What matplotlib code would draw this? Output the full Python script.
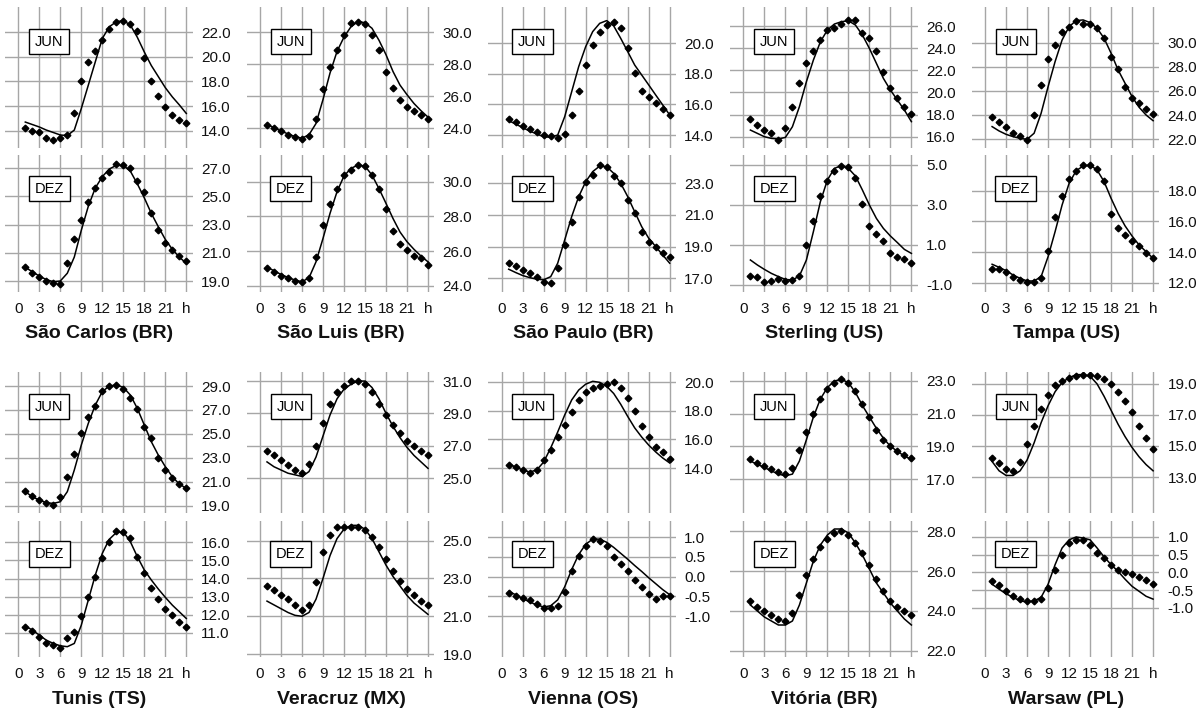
import matplotlib
matplotlib.use("Agg")
import matplotlib.pyplot as plt
import matplotlib.transforms as mtransforms

plt.rcParams['font.family'] = ['Liberation Sans', 'DejaVu Sans']

# ---------------- data ----------------
hours = list(range(1, 25))
xtick_values = [0, 3, 6, 9, 12, 15, 18, 21, 24]
xtick_labels = ['0', '3', '6', '9', '12', '15', '18', '21', 'h']
months = ['JUN', 'DEZ']
stations = ['São Carlos (BR)', 'São Luis (BR)', 'São Paulo (BR)', 'Sterling (US)', 'Tampa (US)',
            'Tunis (TS)', 'Veracruz (MX)', 'Vienna (OS)', 'Vitória (BR)', 'Warsaw (PL)']

sao_carlos_jun_obs = [14.24, 14.0, 13.86, 13.4, 13.24, 13.4, 13.65, 15.4, 18.0, 19.6, 20.5, 21.4,
                      22.3, 22.8, 22.9, 22.7, 22.1, 19.9, 18.0, 16.8, 15.9, 15.3, 14.9, 14.6]
sao_carlos_jun_model = [14.7, 14.5, 14.3, 14.05, 13.85, 13.65, 13.6, 14.05, 15.8, 17.7, 19.6, 21.5,
                        22.45, 22.86, 22.95, 22.6, 21.6, 20.4, 19.3, 18.4, 17.5, 16.75, 16.1, 15.4]
sao_carlos_jun_ticks = [14, 16, 18, 20, 22]
sao_carlos_jun_ylim = [12.59, 24.06]
sao_carlos_dez_obs = [19.97, 19.6, 19.3, 19.0, 18.83, 18.8, 20.25, 21.96, 23.3, 24.6, 25.6, 26.3,
                      26.7, 27.3, 27.2, 27.0, 26.1, 25.3, 23.8, 22.6, 21.7, 21.2, 20.8, 20.4]
sao_carlos_dez_model = [19.97, 19.66, 19.35, 19.1, 18.95, 19.0, 19.55, 20.7, 22.6, 24.3, 25.6, 26.4,
                        26.95, 27.2, 27.2, 26.8, 25.9, 24.9, 23.8, 22.85, 21.95, 21.25, 20.7, 20.25]
sao_carlos_dez_ticks = [19, 21, 23, 25, 27]
sao_carlos_dez_ylim = [18.22, 27.94]

sao_luis_jun_obs = [24.2, 24.04, 23.85, 23.6, 23.45, 23.33, 23.5, 24.6, 26.45, 27.85, 28.9, 29.8,
                    30.55, 30.67, 30.5, 29.8, 28.9, 27.5, 26.5, 25.8, 25.35, 25.1, 24.83, 24.6]
sao_luis_jun_model = [24.25, 24.04, 23.83, 23.65, 23.48, 23.38, 23.6, 24.3, 25.8, 27.45, 28.8, 29.7,
                      30.35, 30.67, 30.6, 30.25, 29.5, 28.6, 27.55, 26.7, 26.1, 25.55, 25.1, 24.7]
sao_luis_jun_ticks = [24, 26, 28, 30]
sao_luis_jun_ylim = [22.77, 31.58]
sao_luis_dez_obs = [25.0, 24.8, 24.58, 24.42, 24.27, 24.19, 24.46, 25.63, 27.5, 28.7, 29.58, 30.38,
                    30.7, 30.96, 30.9, 30.38, 29.56, 28.42, 27.17, 26.4, 26.06, 25.71, 25.58, 25.19]
sao_luis_dez_model = [25.06, 24.87, 24.65, 24.48, 24.33, 24.23, 24.46, 25.38, 26.73, 28.17, 29.42, 30.33,
                      30.77, 30.96, 30.9, 30.38, 29.6, 28.75, 27.88, 27.1, 26.54, 26.1, 25.71, 25.38]
sao_luis_dez_ticks = [24, 26, 28, 30]
sao_luis_dez_ylim = [23.64, 31.54]

sao_paulo_jun_obs = [15.05, 14.83, 14.59, 14.39, 14.22, 14.0, 13.93, 13.78, 14.04, 15.31, 16.9, 18.59,
                     19.9, 20.77, 21.2, 21.42, 20.99, 19.68, 18.04, 16.9, 16.47, 16.12, 15.68, 15.31]
sao_paulo_jun_model = [14.94, 14.72, 14.48, 14.26, 14.07, 13.89, 13.85, 14.0, 15.2, 16.84, 18.48, 19.79,
                       20.77, 21.31, 21.49, 21.14, 20.33, 19.46, 18.58, 17.93, 17.28, 16.62, 15.97, 15.31]
sao_paulo_jun_ticks = [14, 16, 18, 20]
sao_paulo_jun_ylim = [13.15, 22.38]
sao_paulo_dez_obs = [17.99, 17.78, 17.53, 17.36, 17.1, 16.79, 16.73, 17.63, 19.1, 20.58, 22.12, 23.1,
                     23.53, 24.16, 24.05, 23.46, 23.0, 21.95, 21.1, 19.95, 19.32, 18.96, 18.58, 18.33]
sao_paulo_dez_model = [17.57, 17.36, 17.17, 17.04, 16.94, 16.9, 17.1, 17.95, 19.42, 20.9, 22.16, 23.1,
                       23.74, 24.09, 24.05, 23.63, 23.0, 22.16, 21.2, 20.26, 19.53, 19.0, 18.47, 17.95]
sao_paulo_dez_ticks = [17, 19, 21, 23]
sao_paulo_dez_ylim = [16.13, 24.79]

sterling_jun_obs = [17.6, 17.05, 16.6, 16.3, 15.7, 16.81, 18.71, 20.88, 22.63, 23.74, 24.73, 25.64,
                    25.79, 26.18, 26.54, 26.54, 25.4, 24.89, 23.77, 21.87, 20.37, 19.46, 18.71, 18.05]
sterling_jun_model = [16.6, 16.3, 16.0, 15.85, 15.79, 15.94, 16.9, 18.71, 20.97, 22.93, 24.58, 25.64,
                      26.18, 26.39, 26.48, 26.09, 25.19, 23.98, 22.63, 21.27, 20.22, 19.31, 18.41, 17.36]
sterling_jun_ticks = [16, 18, 20, 22, 24, 26]
sterling_jun_ylim = [14.98, 27.72]
sterling_dez_obs = [-0.53, -0.62, -0.83, -0.8, -0.72, -0.8, -0.75, -0.53, 1.0, 2.2, 3.45, 4.2,
                    4.72, 4.95, 4.88, 4.37, 3.03, 1.97, 1.55, 1.22, 0.58, 0.38, 0.32, 0.08]
sterling_dez_model = [0.25, 0.0, -0.22, -0.42, -0.58, -0.72, -0.75, -0.55, 0.25, 1.67, 3.17, 4.25,
                      4.83, 4.97, 4.83, 4.45, 3.75, 3.0, 2.33, 1.83, 1.45, 1.12, 0.78, 0.58]
sterling_dez_ticks = [-1, 1, 3, 5]
sterling_dez_ylim = [-1.35, 5.5]

tampa_jun_obs = [23.82, 23.41, 22.99, 22.5, 22.3, 21.94, 24.01, 26.5, 28.62, 29.81, 30.91, 31.32,
                 31.82, 31.55, 31.55, 31.19, 30.36, 28.84, 27.82, 26.36, 25.39, 24.98, 24.48, 24.1]
tampa_jun_model = [23.05, 22.69, 22.41, 22.22, 22.08, 22.0, 22.5, 24.15, 26.36, 28.43, 30.22, 31.32,
                   31.82, 31.88, 31.66, 31.19, 30.36, 29.12, 27.74, 26.63, 25.53, 24.65, 24.01, 23.54]
tampa_jun_ticks = [22, 24, 26, 28, 30]
tampa_jun_ylim = [21.28, 32.95]
tampa_dez_obs = [12.89, 12.89, 12.72, 12.39, 12.17, 12.02, 12.02, 12.28, 14.09, 16.26, 17.65, 18.74,
                 19.28, 19.67, 19.67, 19.39, 18.63, 16.48, 15.54, 15.11, 14.74, 14.39, 13.91, 13.63]
tampa_dez_model = [13.2, 13.0, 12.78, 12.5, 12.28, 12.11, 12.11, 12.39, 13.7, 15.33, 17.07, 18.48,
                   19.3, 19.61, 19.67, 19.35, 18.59, 17.5, 16.52, 15.7, 15.04, 14.46, 14.02, 13.59]
tampa_dez_ticks = [12, 14, 16, 18]
tampa_dez_ylim = [11.39, 20.33]

tunis_jun_obs = [20.23, 19.84, 19.47, 19.25, 19.06, 19.75, 21.37, 23.32, 25.1, 26.38, 27.33, 28.58,
                 29.0, 29.08, 28.75, 28.03, 27.05, 25.6, 24.63, 23.01, 21.98, 21.28, 20.81, 20.45]
tunis_jun_model = [20.17, 19.75, 19.47, 19.25, 19.19, 19.33, 20.17, 21.98, 24.07, 25.88, 27.41, 28.53,
                   29.0, 29.08, 28.89, 28.25, 27.13, 25.74, 24.35, 23.23, 22.26, 21.42, 20.81, 20.45]
tunis_jun_ticks = [19, 21, 23, 25, 27, 29]
tunis_jun_ylim = [18.39, 30.17]
tunis_dez_obs = [11.33, 11.09, 10.78, 10.45, 10.32, 10.17, 10.72, 11.02, 11.92, 12.96, 14.1, 15.15,
                 16.04, 16.65, 16.55, 16.22, 15.17, 14.28, 13.49, 12.86, 12.31, 12.01, 11.57, 11.33]
tunis_dez_model = [11.37, 11.15, 10.87, 10.59, 10.41, 10.28, 10.23, 10.41, 11.42, 12.81, 14.19, 15.39,
                   16.17, 16.54, 16.59, 16.04, 15.21, 14.47, 13.92, 13.42, 12.96, 12.53, 12.16, 11.79]
tunis_dez_ticks = [11, 12, 13, 14, 15, 16]
tunis_dez_ylim = [9.66, 17.18]

veracruz_jun_obs = [26.7, 26.4, 26.1, 25.8, 25.5, 25.3, 25.9, 27.0, 28.4, 29.6, 30.3, 30.7,
                    31.0, 31.0, 30.8, 30.3, 29.6, 28.9, 28.3, 27.8, 27.3, 27.0, 26.7, 26.4]
veracruz_jun_model = [26.0, 25.7, 25.5, 25.3, 25.2, 25.1, 25.4, 26.3, 27.6, 28.9, 29.9, 30.5,
                      30.8, 31.0, 31.0, 30.6, 29.9, 29.0, 28.2, 27.5, 26.9, 26.4, 26.0, 25.6]
veracruz_jun_ticks = [25, 27, 29, 31]
veracruz_jun_ylim = [22.84, 31.56]
veracruz_dez_obs = [22.6, 22.4, 22.1, 21.9, 21.6, 21.35, 21.6, 22.8, 24.4, 25.3, 25.7, 25.7,
                    25.7, 25.7, 25.57, 25.2, 24.64, 24.02, 23.4, 22.88, 22.46, 22.1, 21.79, 21.58]
veracruz_dez_model = [21.8, 21.6, 21.4, 21.2, 21.05, 21.0, 21.2, 21.9, 23.0, 24.2, 25.1, 25.6,
                      25.8, 25.8, 25.6, 25.1, 24.4, 23.7, 23.1, 22.6, 22.1, 21.7, 21.4, 21.1]
veracruz_dez_ticks = [19, 21, 23, 25]
veracruz_dez_ylim = [18.85, 26.03]

vienna_jun_obs = [14.21, 14.07, 13.86, 13.65, 13.86, 14.56, 15.26, 16.16, 17.0, 17.91, 18.75, 19.3,
                  19.58, 19.72, 19.86, 20.0, 19.6, 18.9, 17.95, 16.9, 16.16, 15.5, 15.1, 14.6]
vienna_jun_model = [14.28, 14.07, 13.86, 13.72, 13.86, 14.42, 15.4, 16.51, 17.7, 18.75, 19.44, 19.85,
                    20.05, 19.98, 19.7, 19.2, 18.45, 17.6, 16.8, 16.16, 15.6, 15.12, 14.7, 14.35]
vienna_jun_ticks = [14, 16, 18, 20]
vienna_jun_ylim = [10.86, 20.70]
vienna_dez_obs = [-0.41, -0.49, -0.54, -0.59, -0.69, -0.79, -0.79, -0.74, -0.38, 0.13, 0.51, 0.77,
                  0.95, 0.9, 0.77, 0.5, 0.33, 0.13, -0.08, -0.26, -0.44, -0.56, -0.5, -0.5]
vienna_dez_model = [-0.38, -0.46, -0.56, -0.64, -0.72, -0.77, -0.74, -0.59, -0.26, 0.18, 0.56, 0.82,
                    0.95, 0.95, 0.87, 0.74, 0.59, 0.44, 0.28, 0.13, -0.03, -0.18, -0.33, -0.46]
vienna_dez_ticks = [-1.0, -0.5, 0.0, 0.5, 1.0]
vienna_dez_ylim = [-2.04, 1.41]

vitoria_jun_obs = [18.2, 18.0, 17.8, 17.6, 17.4, 17.3, 17.7, 18.8, 19.9, 21.0, 21.9, 22.5,
                   22.9, 23.1, 22.9, 22.4, 21.6, 20.8, 20.0, 19.4, 19.0, 18.7, 18.5, 18.3]
vitoria_jun_model = [18.1, 17.9, 17.7, 17.5, 17.3, 17.2, 17.3, 18.1, 19.4, 20.8, 21.9, 22.6,
                     23.0, 23.1, 22.9, 22.3, 21.5, 20.8, 20.1, 19.5, 19.0, 18.7, 18.4, 18.2]
vitoria_jun_ticks = [17, 19, 21, 23]
vitoria_jun_ylim = [14.92, 23.55]
vitoria_dez_obs = [24.5, 24.2, 24.0, 23.8, 23.6, 23.5, 23.9, 24.8, 25.8, 26.6, 27.2, 27.6,
                   27.9, 28.0, 27.8, 27.4, 26.9, 26.3, 25.6, 25.0, 24.5, 24.2, 24.0, 23.8]
vitoria_dez_model = [24.3, 24.0, 23.7, 23.5, 23.3, 23.3, 23.5, 24.3, 25.4, 26.5, 27.3, 27.8,
                     28.1, 28.1, 27.9, 27.4, 26.8, 26.1, 25.4, 24.9, 24.4, 24.0, 23.6, 23.3]
vitoria_dez_ticks = [22, 24, 26, 28]
vitoria_dez_ylim = [21.7, 28.5]

warsaw_jun_obs = [14.2, 13.9, 13.5, 13.4, 14.0, 15.1, 16.3, 17.4, 18.3, 18.9, 19.2, 19.4,
                  19.5, 19.6, 19.6, 19.5, 19.3, 19.0, 18.5, 17.9, 17.2, 16.3, 15.5, 14.8]
warsaw_jun_model = [14.0, 13.4, 13.1, 13.1, 13.4, 14.1, 15.2, 16.5, 17.6, 18.5, 19.1, 19.4,
                    19.6, 19.6, 19.5, 19.0, 18.2, 17.3, 16.4, 15.6, 14.9, 14.3, 13.8, 13.4]
warsaw_jun_ticks = [13, 15, 17, 19]
warsaw_jun_ylim = [10.68, 19.77]
warsaw_dez_obs = [-0.25, -0.36, -0.53, -0.67, -0.75, -0.8, -0.8, -0.75, -0.45, 0.08, 0.5, 0.83,
                  0.92, 0.92, 0.78, 0.56, 0.42, 0.22, 0.08, 0.0, -0.05, -0.14, -0.2, -0.33]
warsaw_dez_model = [-0.33, -0.47, -0.6, -0.7, -0.8, -0.83, -0.8, -0.7, -0.33, 0.22, 0.69, 0.92,
                    1.0, 0.97, 0.92, 0.69, 0.44, 0.22, 0.03, -0.19, -0.39, -0.53, -0.67, -0.75]
warsaw_dez_ticks = [-1.0, -0.5, 0.0, 0.5, 1.0]
warsaw_dez_ylim = [-2.38, 1.45]

panels = [
    ((sao_carlos_jun_obs, sao_carlos_jun_model, sao_carlos_jun_ticks, sao_carlos_jun_ylim),
     (sao_carlos_dez_obs, sao_carlos_dez_model, sao_carlos_dez_ticks, sao_carlos_dez_ylim)),
    ((sao_luis_jun_obs, sao_luis_jun_model, sao_luis_jun_ticks, sao_luis_jun_ylim),
     (sao_luis_dez_obs, sao_luis_dez_model, sao_luis_dez_ticks, sao_luis_dez_ylim)),
    ((sao_paulo_jun_obs, sao_paulo_jun_model, sao_paulo_jun_ticks, sao_paulo_jun_ylim),
     (sao_paulo_dez_obs, sao_paulo_dez_model, sao_paulo_dez_ticks, sao_paulo_dez_ylim)),
    ((sterling_jun_obs, sterling_jun_model, sterling_jun_ticks, sterling_jun_ylim),
     (sterling_dez_obs, sterling_dez_model, sterling_dez_ticks, sterling_dez_ylim)),
    ((tampa_jun_obs, tampa_jun_model, tampa_jun_ticks, tampa_jun_ylim),
     (tampa_dez_obs, tampa_dez_model, tampa_dez_ticks, tampa_dez_ylim)),
    ((tunis_jun_obs, tunis_jun_model, tunis_jun_ticks, tunis_jun_ylim),
     (tunis_dez_obs, tunis_dez_model, tunis_dez_ticks, tunis_dez_ylim)),
    ((veracruz_jun_obs, veracruz_jun_model, veracruz_jun_ticks, veracruz_jun_ylim),
     (veracruz_dez_obs, veracruz_dez_model, veracruz_dez_ticks, veracruz_dez_ylim)),
    ((vienna_jun_obs, vienna_jun_model, vienna_jun_ticks, vienna_jun_ylim),
     (vienna_dez_obs, vienna_dez_model, vienna_dez_ticks, vienna_dez_ylim)),
    ((vitoria_jun_obs, vitoria_jun_model, vitoria_jun_ticks, vitoria_jun_ylim),
     (vitoria_dez_obs, vitoria_dez_model, vitoria_dez_ticks, vitoria_dez_ylim)),
    ((warsaw_jun_obs, warsaw_jun_model, warsaw_jun_ticks, warsaw_jun_ylim),
     (warsaw_dez_obs, warsaw_dez_model, warsaw_dez_ticks, warsaw_dez_ylim)),
]

# ---------------- layout (pixels) ----------------
W, H = 1199, 711
PXH = 7.0
XMIN, XMAX = -1.9, 24.9
col_x0 = [18.3 + 241.7 * c for c in range(5)]
# (jun_top, jun_bottom, dez_top, dez_bottom, title_y)
rows = [(7, 148, 155, 292, 333), (372, 513, 521, 657, 699)]

fig = plt.figure(figsize=(W / 100, H / 100), dpi=100)
fig.patch.set_facecolor('white')


def add_panel(x0, ytop, ybot, spec, label, show_x):
    obs, model, ticks, ylim = spec
    left = x0 + XMIN * PXH
    width = (XMAX - XMIN) * PXH
    ax = fig.add_axes([left / W, 1 - ybot / H, width / W, (ybot - ytop) / H])
    ax.plot(hours, model, color='black', lw=1.1, zorder=3)
    ax.plot(hours, obs, ls='none', marker='D', ms=3.4, color='black', zorder=4)
    ax.set_ylim(*ylim)
    ax.set_xlim(XMIN, XMAX)
    ax.set_xticks(xtick_values)
    ax.set_yticks(ticks)
    ax.set_yticklabels([f'{t:.1f}' for t in ticks])
    ax.yaxis.tick_right()
    ax.tick_params(axis='both', length=0, labelsize=11, colors='#111111')
    ax.tick_params(axis='y', pad=6)
    ax.tick_params(axis='x', pad=7)
    if show_x:
        ax.set_xticklabels(xtick_labels)
    else:
        ax.tick_params(axis='x', labelbottom=False)
    ax.grid(True, color='#a6a6a6', lw=1.0)
    ax.set_axisbelow(True)
    for s in ax.spines.values():
        s.set_visible(False)
    ax.set_facecolor('none')
    trans = mtransforms.blended_transform_factory(ax.transData, ax.transAxes)
    ax.text(4.4, 0.755, label, transform=trans, ha='center', va='center', fontsize=10.5,
            bbox=dict(boxstyle='square,pad=0.4', fc='white', ec='black', lw=1.0), zorder=5)
    return ax


for i, (jun_spec, dez_spec) in enumerate(panels):
    r = i // 5
    c = i % 5
    x0 = col_x0[c]
    jt0, jb0, dt0, db0, ty = rows[r]
    add_panel(x0, jt0, jb0, jun_spec, months[0], False)
    add_panel(x0, dt0, db0, dez_spec, months[1], True)
    fig.text((x0 + 11.6 * PXH) / W, 1 - ty / H, stations[i], ha='center', va='center',
             fontsize=14, fontweight='bold', color='#111111')

fig.savefig('out.png', dpi=100)
